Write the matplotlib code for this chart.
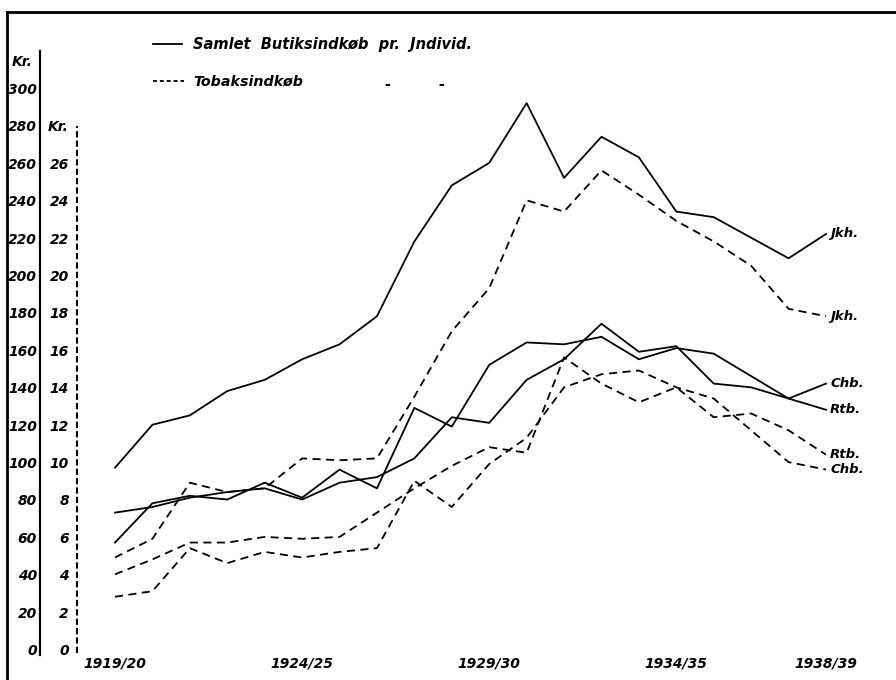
import matplotlib
matplotlib.use("Agg")
import matplotlib.pyplot as plt
from matplotlib import transforms
from matplotlib.lines import Line2D

# seasons 1919/20 .. 1938/39
seasons = ["%d/%02d" % (y, (y + 1) % 100) for y in range(1919, 1939)]
shown = ["1919/20", "1924/25", "1929/30", "1934/35", "1938/39"]

# total shop purchases per person (Kr., left scale)
jkh_total = [98, 121, 126, 139, 145, 156, 164, 179, 219, 249,
             261, 293, 253, 275, 264, 235, 232, 221, 210, 223]
chb_total = [74, 77, 82, 85, 87, 81, 90, 93, 103, 125,
             122, 145, 156, 175, 160, 163, 143, 141, 135, 143]
rtb_total = [58, 79, 83, 81, 90, 82, 97, 87, 130, 120,
             153, 165, 164, 168, 156, 162, 159, 147, 135, 129]

# tobacco purchases per person (Kr., inner scale)
jkh_tob = [5.0, 6.0, 9.0, 8.5, 8.7, 10.3, 10.2, 10.3, 13.6, 17.1,
           19.4, 24.1, 23.5, 25.7, 24.4, 23.0, 21.9, 20.6, 18.3, 17.9]
rtb_tob = [4.1, 4.9, 5.8, 5.8, 6.1, 6.0, 6.1, 7.4, 8.7, 9.9,
           10.9, 10.6, 15.7, 14.3, 13.3, 14.1, 12.5, 12.7, 11.8, 10.5]
chb_tob = [2.9, 3.2, 5.5, 4.7, 5.3, 5.0, 5.3, 5.5, 9.1, 7.7,
           10.0, 11.4, 14.1, 14.8, 15.0, 14.1, 13.5, 11.8, 10.1, 9.7]

outer_ticks = list(range(0, 301, 20))
inner_ticks = list(range(0, 27, 2))

W, H = 896, 680
fig = plt.figure(figsize=(W / 100, H / 100), dpi=100)
fig.patch.set_facecolor("white")

def fx(px):
    return px / W

def fy(py):
    return (H - py) / H

ax = fig.add_axes([fx(115), fy(651), fx(826) - fx(115), fy(90) - fy(651)])
ax.set_xlim(0, 19)
ax.set_ylim(0, 300)
ax2 = ax.twinx()
ax2.set_ylim(0, 30)
for a in (ax, ax2):
    a.set_axis_off()
    a.patch.set_alpha(0)

font = dict(family="DejaVu Sans", style="italic", weight="bold", color="black")
x = list(range(len(seasons)))
lw = 1.3
dash = (4.5, 3)

for vals in (jkh_total, chb_total, rtb_total):
    ax.plot(x, vals, color="black", lw=lw, clip_on=False)
for vals in (jkh_tob, rtb_tob, chb_tob):
    ax2.plot(x, vals, color="black", lw=lw, dashes=dash, clip_on=False)

# labels at the ends of the curves
ends = [(ax, jkh_total, "Jkh."), (ax, chb_total, "Chb."), (ax, rtb_total, "Rtb."),
        (ax2, jkh_tob, "Jkh."), (ax2, rtb_tob, "Rtb."), (ax2, chb_tob, "Chb.")]
for a, vals, name in ends:
    a.annotate(name, (x[-1], vals[-1]), xytext=(3, 0), textcoords="offset points",
               va="center", ha="left", fontsize=9.5, annotation_clip=False, **font)

# x labels
for lab in shown:
    ax.text(seasons.index(lab), -6.5, lab, ha="center", va="center",
            fontsize=10, clip_on=False, **font)

# outer (total) scale
tr1 = transforms.blended_transform_factory(fig.transFigure, ax.transData)
ax.plot([fx(40), fx(40)], [-2, 321], color="black", lw=1.6,
        transform=tr1, clip_on=False)
for v in outer_ticks:
    ax.text(fx(37), v, str(v), ha="right", va="center", fontsize=10,
            transform=tr1, clip_on=False, **font)
ax.text(fx(22), 315, "Kr.", ha="center", va="center", fontsize=10,
        transform=tr1, clip_on=False, **font)

# inner (tobacco) scale
tr2 = transforms.blended_transform_factory(fig.transFigure, ax2.transData)
ax2.plot([fx(77), fx(77)], [-0.1, 28.1], color="black", lw=1.5,
         dashes=(3, 1.5), transform=tr2, clip_on=False)
for v in inner_ticks:
    ax2.text(fx(69), v, str(v), ha="right", va="center", fontsize=10,
             transform=tr2, clip_on=False, **font)
ax2.text(fx(58), 28, "Kr.", ha="center", va="center", fontsize=10,
         transform=tr2, clip_on=False, **font)

# legend
fig.add_artist(Line2D([fx(153), fx(182)], [fy(44), fy(44)], color="black", lw=lw))
fig.text(fx(193), fy(44), "Samlet  Butiksindkøb  pr.  Jndivid.", ha="left",
         va="center", fontsize=10.5, **font)
fig.add_artist(Line2D([fx(153), fx(184)], [fy(81), fy(81)], color="black",
                      lw=lw, dashes=(2.2, 1.6)))
fig.text(fx(193), fy(81), "Tobaksindkøb", ha="left", va="center",
         fontsize=10.3, **font)
for px in (388, 442):
    fig.text(fx(px), fy(84), "-", ha="center", va="center", fontsize=10.5, **font)

# frame of the sheet
fig.add_artist(Line2D([fx(7), fx(896)], [fy(12), fy(12)], color="black", lw=2))
fig.add_artist(Line2D([fx(7), fx(7)], [fy(12), fy(680)], color="black", lw=2))

fig.savefig("out.png", dpi=100)
